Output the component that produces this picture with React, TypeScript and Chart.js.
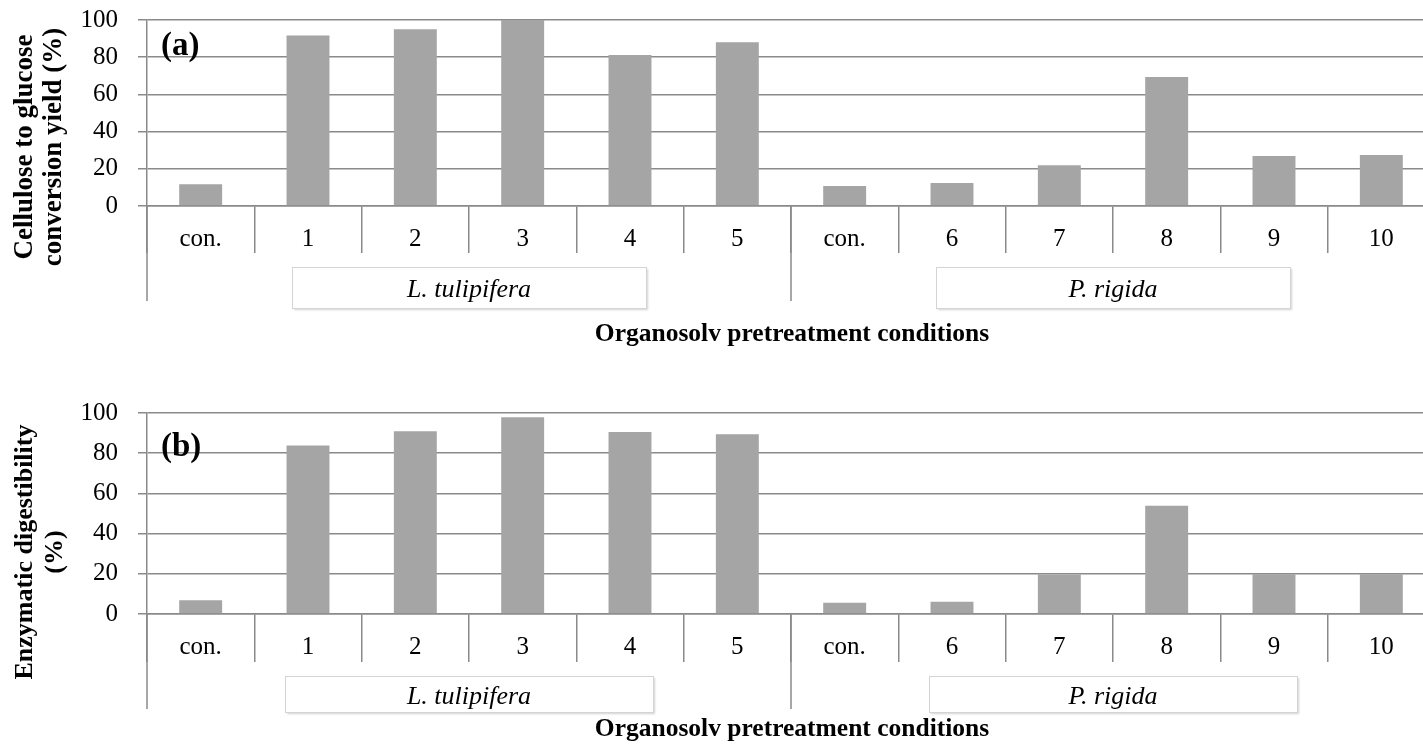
import React, { useEffect, useRef } from 'react';
import { Chart, registerables } from 'chart.js';

Chart.register(...registerables);

// ---------- data ----------
const categories = ['con.', '1', '2', '3', '4', '5', 'con.', '6', '7', '8', '9', '10'];
const groupNames = ['L. tulipifera', 'P. rigida'];
const groupSizes = [6, 6];
const conversionYield = [11.7, 91.6, 95.0, 100, 81.2, 88.0, 10.8, 12.4, 21.9, 69.4, 26.9, 27.4];
const enzymaticDigestibility = [6.9, 83.8, 90.9, 97.9, 90.5, 89.4, 5.6, 6.1, 19.7, 53.9, 19.8, 19.8];
const yMin = 0;
const yMax = 100;
const yStep = 20;
const xTitle = 'Organosolv pretreatment conditions';
const yTitleA = ['Cellulose to glucose', 'conversion yield (%)'];
const yTitleB = ['Enzymatic digestibility', '(%)'];

// ---------- style ----------
const GRID = '#8a8a8a';
const BAR = '#a5a5a5';
const FONT = '"Liberation Serif", "Times New Roman", serif';
const CANVAS_W = 1440;

const decorPlugin = {
  id: 'decor',
  afterDraw(chart: any, _args: any, o: any) {
    const ctx = chart.ctx as CanvasRenderingContext2D;
    const xs = chart.scales.x;
    const area = chart.chartArea;
    const step = xs.getPixelForValue(1) - xs.getPixelForValue(0);
    const edge = (i: number) => xs.getPixelForValue(i) - step / 2;
    ctx.save();
    let start = 0;
    groupSizes.forEach((size, g) => {
      const left = edge(start);
      const right = edge(start + size);
      ctx.strokeStyle = GRID;
      ctx.lineWidth = 1.5;
      ctx.beginPath();
      ctx.moveTo(left, area.bottom);
      ctx.lineTo(left, o.sepBottom);
      ctx.stroke();
      const cx = (left + right) / 2;
      const bx = Math.round(cx - o.boxWidth / 2) + 0.5;
      const by = o.boxTop + 0.5;
      const bh = o.boxBottom - o.boxTop;
      ctx.save();
      ctx.shadowColor = 'rgba(0,0,0,0.18)';
      ctx.shadowBlur = 2;
      ctx.shadowOffsetX = 1;
      ctx.shadowOffsetY = 1;
      ctx.fillStyle = '#ffffff';
      ctx.fillRect(bx, by, o.boxWidth, bh);
      ctx.restore();
      ctx.strokeStyle = '#d4d4d4';
      ctx.lineWidth = 1;
      ctx.strokeRect(bx, by, o.boxWidth, bh);
      ctx.fillStyle = '#000';
      ctx.font = `italic 26px ${FONT}`;
      ctx.textAlign = 'center';
      ctx.textBaseline = 'alphabetic';
      ctx.fillText(groupNames[g], cx, o.groupBaseline);
      start += size;
    });
    // x title
    ctx.fillStyle = '#000';
    ctx.font = `bold 25.5px ${FONT}`;
    ctx.textAlign = 'center';
    ctx.textBaseline = 'alphabetic';
    ctx.fillText(xTitle, (edge(0) + edge(categories.length)) / 2 + 1, o.titleBaseline);
    // y title
    ctx.font = `bold ${o.yTitleSize}px ${FONT}`;
    ctx.textBaseline = 'middle';
    o.yTitle.forEach((line: string, i: number) => {
      ctx.save();
      ctx.translate(o.yTitleX[i], o.yTitleCenter);
      ctx.rotate(-Math.PI / 2);
      ctx.fillText(line, 0, 0);
      ctx.restore();
    });
    // panel label
    ctx.font = `bold 33px ${FONT}`;
    ctx.textAlign = 'left';
    ctx.textBaseline = 'alphabetic';
    ctx.fillText(o.panel, 161, o.panelBaseline);
    ctx.restore();
  },
};

type Spec = {
  canvasH: number;
  padTop: number;
  plotBottom: number;
  tickLen: number;
  tickPad: number;
  decor: any;
};

const zeroPad = (s: any) => {
  s.paddingTop = 0;
  s.paddingBottom = 0;
  s.paddingLeft = 0;
  s.paddingRight = 0;
};

function Panel({ values, spec }: { values: number[]; spec: Spec }) {
  const ref = useRef<HTMLCanvasElement>(null);
  useEffect(() => {
    if (!ref.current) return;
    const chart = new Chart(ref.current, {
      type: 'bar',
      data: {
        labels: categories,
        datasets: [
          {
            data: values,
            backgroundColor: BAR,
            borderWidth: 0,
            barPercentage: 0.4,
            categoryPercentage: 1,
          },
        ],
      },
      options: {
        responsive: false,
        animation: false,
        devicePixelRatio: 1,
        layout: { padding: { top: spec.padTop, left: 0, right: CANVAS_W - 1435, bottom: 0 } },
        plugins: {
          legend: { display: false },
          tooltip: { enabled: false },
          decor: spec.decor,
        } as any,
        scales: {
          x: {
            type: 'category',
            offset: true,
            afterFit: (s: any) => {
              s.height = spec.canvasH - spec.plotBottom;
              zeroPad(s);
            },
            grid: {
              offset: true,
              drawOnChartArea: false,
              drawTicks: true,
              tickLength: spec.tickLen,
              color: GRID,
              lineWidth: 1.5,
            },
            border: { display: true, color: GRID, width: 1.5 },
            ticks: {
              font: { family: FONT, size: 25 },
              color: '#000',
              padding: spec.tickPad,
              maxRotation: 0,
              autoSkip: false,
            },
          },
          y: {
            min: yMin,
            max: yMax,
            afterFit: (s: any) => {
              s.width = 147;
              zeroPad(s);
            },
            grid: {
              color: GRID,
              lineWidth: 1.5,
              drawTicks: true,
              tickLength: 9,
            },
            border: { display: true, color: GRID, width: 1.5 },
            ticks: {
              stepSize: yStep,
              font: { family: FONT, size: 25 },
              color: '#000',
              padding: 20,
            },
          },
        },
      },
      plugins: [decorPlugin as any],
    });
    return () => chart.destroy();
  }, []);
  return <canvas ref={ref} width={CANVAS_W} height={spec.canvasH} style={{ display: 'block' }} />;
}

const specA: Spec = {
  canvasH: 372,
  padTop: 20,
  plotBottom: 206,
  tickLen: 47,
  tickPad: -28.5,
  decor: {
    sepBottom: 301,
    boxTop: 267,
    boxBottom: 308,
    boxWidth: 354,
    groupBaseline: 297,
    titleBaseline: 340.5,
    yTitle: yTitleA,
    yTitleX: [25, 54],
    yTitleCenter: 147,
    yTitleSize: 27,
    panel: '(a)',
    panelBaseline: 55,
  },
};

const specB: Spec = {
  canvasH: 380,
  padTop: 41,
  plotBottom: 242,
  tickLen: 48,
  tickPad: -29.2,
  decor: {
    sepBottom: 337,
    boxTop: 304,
    boxBottom: 340,
    boxWidth: 368,
    groupBaseline: 332,
    titleBaseline: 364,
    yTitle: yTitleB,
    yTitleX: [25, 55],
    yTitleCenter: 180,
    yTitleSize: 26,
    panel: '(b)',
    panelBaseline: 84,
  },
};

export default function App() {
  return (
    <div
      style={{
        position: 'fixed',
        left: 0,
        top: 0,
        width: 1423,
        height: 744,
        overflow: 'hidden',
        background: '#fff',
      }}
    >
      <div style={{ position: 'absolute', left: 0, top: 0 }}>
        <Panel values={conversionYield} spec={specA} />
      </div>
      <div style={{ position: 'absolute', left: 0, top: 372 }}>
        <Panel values={enzymaticDigestibility} spec={specB} />
      </div>
    </div>
  );
}
